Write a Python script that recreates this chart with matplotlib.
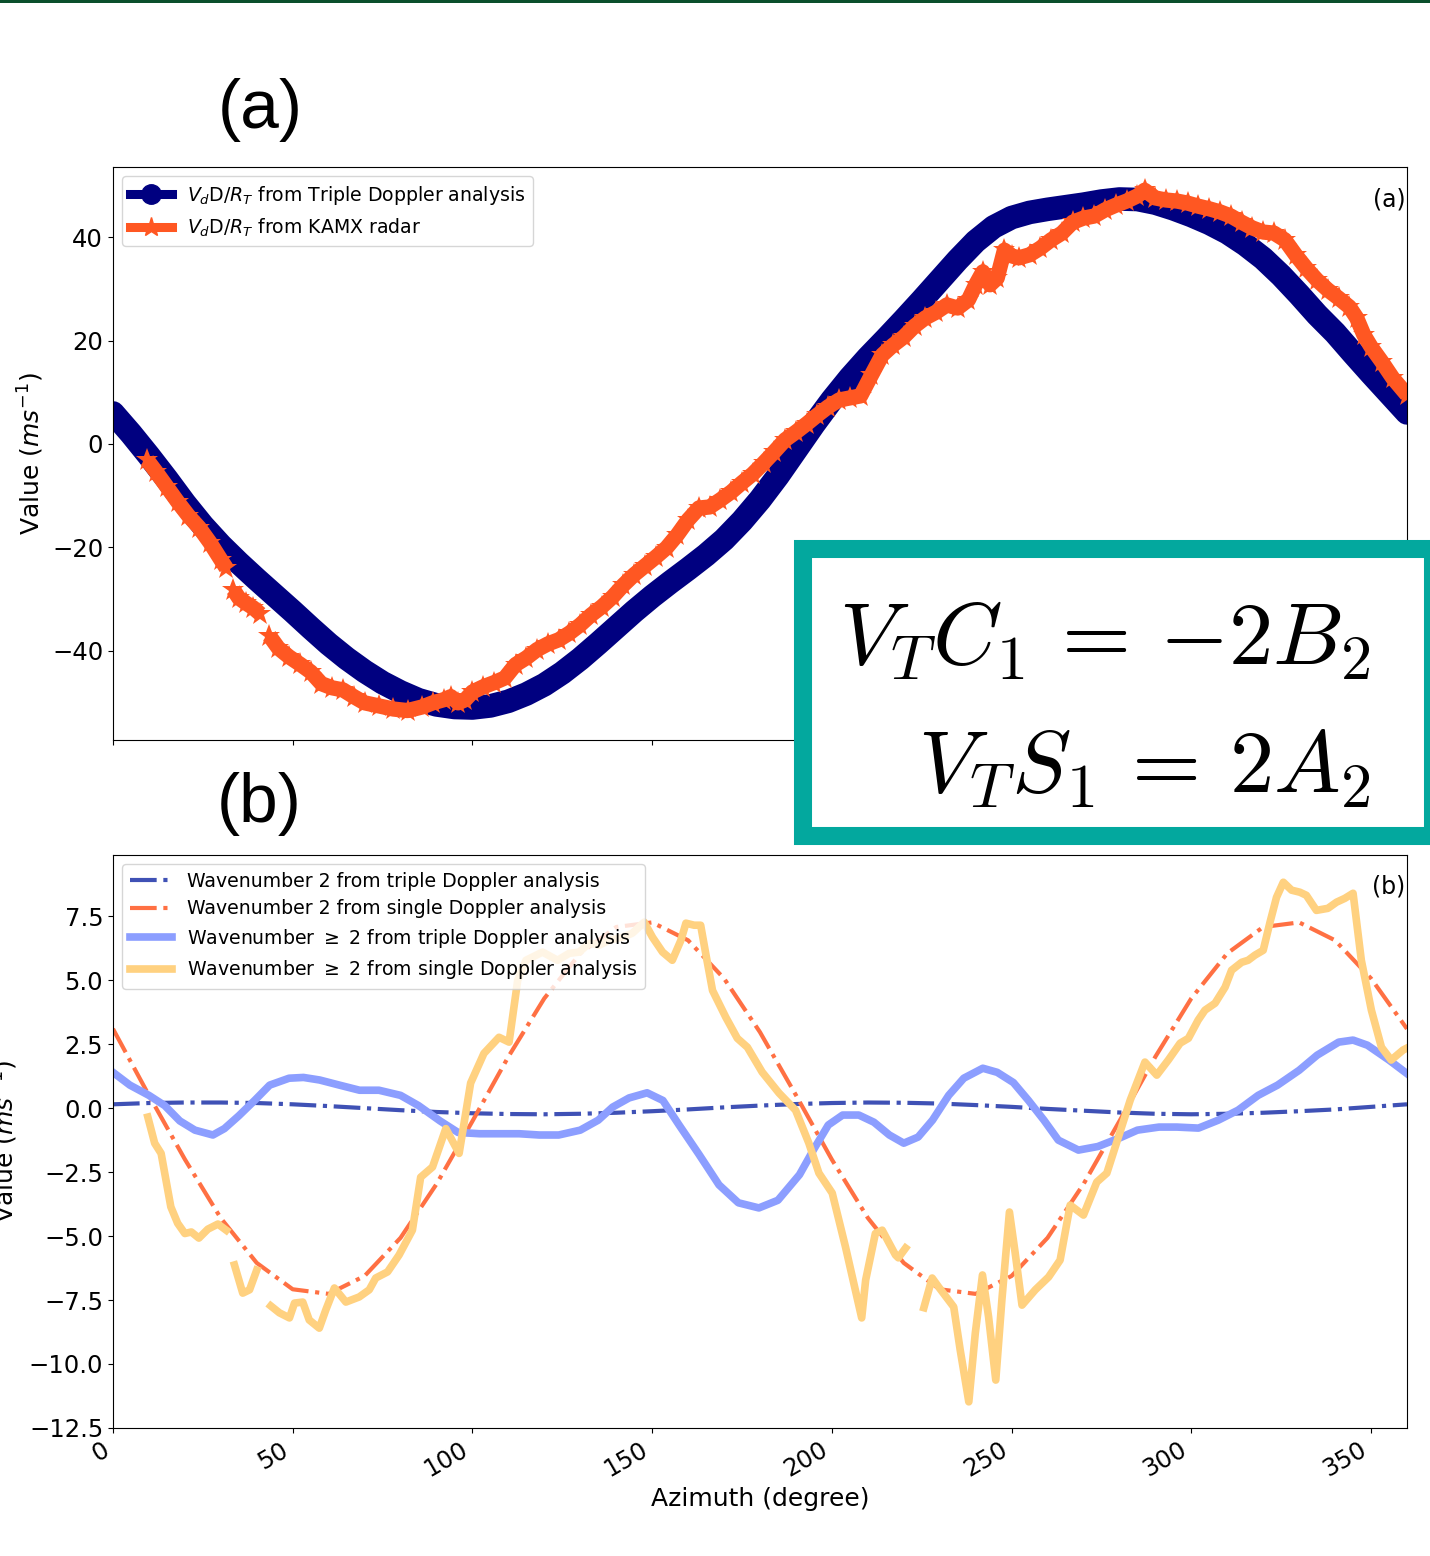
import numpy as np
import matplotlib
matplotlib.use("Agg")
import matplotlib.pyplot as plt
from matplotlib.lines import Line2D
from matplotlib.patches import Rectangle

nan = np.nan

# ---- panel (a): V_d D / R_T ----
az_triple = [0, 5, 10, 15, 20, 25, 30, 35, 40, 45, 50, 55, 60, 65, 70, 75, 80, 85, 90, 95,
             100, 105, 110, 115, 120, 125, 130, 135, 140, 145, 150, 155, 160, 165, 170, 175,
             180, 185, 190, 195, 200, 205, 210, 215, 220, 225, 230, 235, 240, 245, 250, 255,
             260, 265, 270, 275, 280, 285, 290, 295, 300, 305, 310, 315, 320, 325, 330, 335,
             340, 345, 350, 355, 360]
vd_triple = [6.0, 2.0, -2.3, -6.8, -11.5, -15.8, -19.6, -23.0, -26.2, -29.3, -32.4, -35.6,
             -38.7, -41.5, -44.0, -46.2, -48.0, -49.5, -50.5, -51.0, -51.1, -50.7, -49.8,
             -48.4, -46.6, -44.3, -41.6, -38.6, -35.5, -32.4, -29.5, -26.8, -24.2, -21.5,
             -18.5, -14.9, -10.8, -6.2, -1.2, 3.8, 8.5, 12.8, 16.7, 20.3, 24.0, 27.8, 31.7,
             35.6, 39.2, 42.0, 43.8, 44.8, 45.4, 45.9, 46.4, 47.0, 47.4, 47.3, 46.6, 45.5,
             44.2, 42.7, 40.9, 38.6, 35.9, 32.6, 28.9, 25.0, 21.5, 17.5, 13.6, 9.8, 6.0]

az_kamx = [9.5, 12, 15, 18, 21, 24, 27, 30, 31.5, 32.5, 33.5, 35, 37, 39, 41, 42, 43.5, 46,
           49, 52, 55, 58, 61, 64, 67, 70, 74, 78, 82, 86, 89, 92, 94, 96, 98, 100, 103, 106,
           109, 112, 115, 118, 121, 124, 127, 130, 133, 136, 139, 142, 145, 148, 151, 154,
           157, 160, 163, 166, 169, 172, 175, 178, 181, 184, 187, 190, 193, 196, 199, 202,
           205, 208, 211, 214, 217, 220, 223, 226, 229, 232, 235, 238, 240, 242, 244, 246,
           248, 250, 252, 255, 258, 261, 264, 267, 270, 273, 276, 279, 282, 285, 287, 290,
           293, 296, 299, 302, 305, 308, 311, 314, 317, 320, 323, 326, 329, 332, 335, 338,
           341, 344, 346, 348, 350, 353, 356, 360]
vd_kamx = [-3.1, -5.4, -8.3, -11.2, -13.9, -16.2, -19.1, -22.4, -24.0, nan, -28.2, -29.8,
           -30.8, -31.7, -32.9, nan, -37.1, -39.5, -41.2, -42.6, -44.1, -46.4, -47.2, -47.6,
           -48.9, -50.1, -50.7, -51.3, -51.6, -50.9, -50.1, -49.5, -48.9, -50.1, -49.5, -48.0,
           -47.0, -46.2, -45.3, -42.7, -41.4, -39.8, -38.7, -37.9, -36.6, -35.0, -33.1, -31.5,
           -29.6, -27.3, -25.3, -23.6, -21.9, -20.1, -17.6, -14.7, -12.4, -12.2, -10.8, -9.3,
           -7.5, -5.8, -3.7, -1.5, 0.8, 2.3, 3.9, 5.6, 7.2, 8.5, 8.9, 9.3, 13.3, 17.2, 19.1,
           20.7, 22.8, 24.4, 25.5, 26.9, 26.3, 27.9, 30.8, 33.3, 30.8, 32.1, 37.5, 36.4, 36.0,
           36.6, 37.9, 39.5, 40.8, 42.9, 43.7, 44.1, 45.3, 46.2, 47.0, 48.0, 49.1, 47.6, 47.2,
           47.0, 46.6, 46.0, 45.5, 44.9, 44.1, 42.9, 41.8, 41.0, 40.8, 39.5, 36.6, 34.0, 31.7,
           29.8, 28.2, 26.5, 24.4, 21.1, 18.8, 15.9, 12.8, 9.5]

# ---- panel (b): wavenumber components ----
az_wn2 = list(range(0, 361, 10))
wn2_triple = [0.15, 0.2, 0.22, 0.22, 0.2, 0.15, 0.08, 0.0, -0.08, -0.15, -0.2, -0.23, -0.24,
              -0.22, -0.18, -0.12, -0.05, 0.03, 0.1, 0.16, 0.2, 0.22, 0.21, 0.18, 0.12, 0.05,
              -0.03, -0.1, -0.17, -0.22, -0.24, -0.22, -0.18, -0.12, -0.05, 0.05, 0.15]
wn2_single = [3.1, 0.5, -2.0, -4.3, -6.05, -7.08, -7.26, -6.56, -5.07, -2.97, -0.51, 2.01,
              4.29, 6.05, 7.08, 7.26, 6.56, 5.07, 2.97, 0.51, -2.01, -4.29, -6.05, -7.08,
              -7.26, -6.56, -5.07, -2.97, -0.51, 2.01, 4.29, 6.05, 7.08, 7.26, 6.56, 5.07, 3.1]

az_ge2_triple = [0, 4.7, 10, 14.4, 18.6, 22.8, 27.8, 31, 35, 39.4, 43.6, 49, 53, 57.5, 63,
                 68.6, 74, 80, 85, 91, 96, 102, 107.5, 113, 118.6, 124, 130, 135, 139, 143.6,
                 148.6, 153, 157.5, 163, 168.6, 174, 179.7, 185, 191, 195, 199, 203, 207.5,
                 211.7, 216, 220, 224, 228, 232.5, 236.7, 242, 246, 250.5, 254.7, 259, 263,
                 268.6, 274, 280, 285, 291, 296, 302, 307.5, 313, 318.6, 324, 330, 335, 341,
                 345, 349, 355, 360]
ge2_triple = [1.4, 0.9, 0.5, 0.1, -0.5, -0.86, -1.05, -0.8, -0.3, 0.3, 0.9, 1.17, 1.2, 1.1,
              0.9, 0.7, 0.7, 0.5, 0.1, -0.5, -0.95, -1.0, -1.0, -1.0, -1.05, -1.05, -0.86,
              -0.47, 0.04, 0.4, 0.6, 0.3, -0.66, -1.8, -3.0, -3.7, -3.9, -3.6, -2.6, -1.6,
              -0.66, -0.27, -0.27, -0.55, -1.05, -1.37, -1.13, -0.47, 0.5, 1.17, 1.56, 1.4,
              1.0, 0.3, -0.47, -1.25, -1.64, -1.5, -1.17, -0.86, -0.74, -0.74, -0.78, -0.47,
              -0.08, 0.5, 0.9, 1.48, 2.07, 2.58, 2.66, 2.46, 1.88, 1.35]

az_ge2_single = [9.7, 11.6, 13.4, 16.1, 18, 20, 21.8, 23.9, 26.4, 29.2, 31.5, 32.5, 33.8,
                 36.1, 38, 40, 42, 43.9, 46.3, 49.1, 50.5, 52.8, 54.6, 57.4, 59.2, 61.6, 64.8,
                 68.5, 71.3, 73.1, 76.4, 79.6, 83.3, 85.6, 88.9, 92.6, 96.3, 99.5, 103.2,
                 107.4, 110.2, 112.6, 114.9, 119.5, 123.7, 126.9, 129.7, 132.5, 135.3, 138,
                 141.8, 144.5, 147.8, 150.1, 152.9, 155.6, 158, 159.4, 161.7, 163.5, 164.9,
                 166.8, 170.5, 173.7, 176.5, 180.6, 185.3, 189.9, 193.6, 196.4, 200.1, 203.8,
                 208.3, 209.4, 212.1, 214, 217.7, 218.5, 220.5, 222, 225.6, 227.9, 229.7,
                 233.9, 235.7, 238.1, 239.9, 241.9, 243.6, 245.6, 247.3, 249.4, 251, 252.9,
                 256.6, 260.3, 263.5, 266.3, 270, 273.7, 276.5, 279.7, 283, 287.1, 290.4,
                 293.6, 296.9, 299.2, 301.9, 303.8, 306.6, 309.4, 311.2, 314, 315.8, 317.7,
                 320, 321.9, 323.7, 325.6, 327.9, 330.2, 332, 334.8, 338, 340.4, 342.7, 345,
                 347.3, 350.1, 352.9, 355.6, 358.9, 360]
ge2_single = [-0.35, -1.37, -1.77, -3.86, -4.5, -4.9, -4.84, -5.08, -4.73, -4.53, -4.77, nan,
              -6.13, -7.23, -7.1, -6.33, nan, -7.73, -8.0, -8.2, -7.62, -7.58, -8.28, -8.6,
              -7.89, -7.03, -7.58, -7.38, -7.1, -6.64, -6.4, -5.74, -4.77, -2.7, -2.3, -0.8,
              -1.77, 0.98, 2.14, 2.77, 2.58, 5.0, 5.78, 6.1, 5.78, 6.05, 6.1, 6.45, 6.37, 6.56,
              6.68, 6.84, 7.27, 6.68, 6.1, 5.78, 6.56, 7.23, 7.15, 7.15, 6.05, 4.6, 3.55, 2.73,
              2.38, 1.41, 0.59, -0.08, -1.37, -2.54, -3.32, -5.43, -8.2, -6.72, -4.9, -4.77,
              -5.74, -5.85, -5.47, nan, -7.8, -6.64, -6.99, -7.77, -9.45, -11.48, -8.8, -6.52,
              -8.16, -10.63, -7.5, -4.06, -5.66, -7.7, -7.1, -6.6, -5.94, -3.79, -4.18, -2.89,
              -2.54, -1.13, 0.31, 1.8, 1.29, 1.88, 2.54, 2.73, 3.44, 3.83, 4.1, 4.73, 5.39, 5.7,
              5.78, 5.98, 6.17, 7.27, 8.24, 8.83, 8.52, 8.44, 8.32, 7.73, 7.81, 8.05, 8.2, 8.4,
              5.78, 3.83, 2.38, 1.88, 2.27, 2.35]

xticks = [0, 50, 100, 150, 200, 250, 300, 350]

c_navy = '#000080'
c_red = '#ff5722'
c_wn2t = '#3f51b5'
c_wn2s = '#ff7043'
c_ge2t = '#8c9eff'
c_ge2s = '#ffd180'
c_teal = '#03a89e'

fig = plt.figure(figsize=(14.3, 15.56), dpi=100)
ax1 = fig.add_axes([0.0790, 0.5244, 0.9049, 0.3683])
ax2 = fig.add_axes([0.0790, 0.0823, 0.9049, 0.3683])

# panel a
ax1.plot(az_triple, vd_triple, color=c_navy, lw=17, solid_capstyle='round')
ax1.plot(az_kamx, vd_kamx, color=c_red, lw=11, marker='*', ms=17,
         markeredgewidth=0, solid_capstyle='butt')
ax1.set_xlim(0, 360)
ax1.set_ylim(-57.3, 53.6)
ax1.set_xticks(xticks)
ax1.set_xticklabels([])
ax1.set_yticks([-40, -20, 0, 20, 40])
ax1.tick_params(labelsize=17.5)
ax1.set_ylabel('Value ($ms^{-1}$)', fontsize=18)
ax1.yaxis.set_label_coords(-0.052, 0.5)
ax1.text(0.999, 0.965, '(a)', transform=ax1.transAxes, ha='right', va='top', fontsize=17)
h1 = [Line2D([], [], color=c_navy, lw=6.5, marker='o', ms=14),
      Line2D([], [], color=c_red, lw=6.5, marker='*', ms=15)]
ax1.legend(h1, ['$V_d$D/$R_T$ from Triple Doppler analysis', '$V_d$D/$R_T$ from KAMX radar'],
           loc='upper left', fontsize=13.6, handlelength=2.2)

# panel b
ax2.plot(az_wn2, wn2_triple, color=c_wn2t, lw=3, ls='-.',
         label='Wavenumber 2 from triple Doppler analysis')
ax2.plot(az_wn2, wn2_single, color=c_wn2s, lw=3, ls='-.',
         label='Wavenumber 2 from single Doppler analysis')
ax2.plot(az_ge2_triple, ge2_triple, color=c_ge2t, lw=5.5,
         label='Wavenumber $\\geq$ 2 from triple Doppler analysis')
ax2.plot(az_ge2_single, ge2_single, color=c_ge2s, lw=5.5,
         label='Wavenumber $\\geq$ 2 from single Doppler analysis')
ax2.set_xlim(0, 360)
ax2.set_ylim(-12.5, 9.9)
ax2.set_xticks(xticks)
ax2.set_xticklabels([str(t) for t in xticks], rotation=30, ha='right')
ax2.set_yticks(np.arange(-12.5, 8, 2.5))
ax2.tick_params(labelsize=17.5)
ax2.set_xlabel('Azimuth (degree)', fontsize=18)
ax2.set_ylabel('Value ($ms^{-1}$)', fontsize=18)
ax2.yaxis.set_label_coords(-0.072, 0.5)
ax2.text(0.999, 0.965, '(b)', transform=ax2.transAxes, ha='right', va='top', fontsize=17)
ax2.legend(loc='upper left', fontsize=13.6, handlelength=2.2, labelspacing=0.45)

# big panel letters
fig.text(0.182, 0.929, '(a)', ha='center', va='center', fontsize=50, family='Liberation Sans')
fig.text(0.181, 0.483, '(b)', ha='center', va='center', fontsize=50, family='Liberation Sans')

# equation box
W, H = 1430.0, 1556.0
fig.add_artist(Rectangle((803 / W, 1 - 836 / H), 630 / W, 287 / H, transform=fig.transFigure,
                         facecolor='white', edgecolor=c_teal, lw=13, zorder=5))
fig.text(1370 / W, 1 - 665 / H, r'$V_TC_1\,=\,{-}2B_2$', ha='right', va='baseline',
         fontsize=64, math_fontfamily='cm', zorder=6)
fig.text(1370 / W, 1 - 793 / H, r'$V_TS_1\,=\,2A_2$', ha='right', va='baseline',
         fontsize=64, math_fontfamily='cm', zorder=6)

# thin line at the top edge
fig.add_artist(Rectangle((0, 1 - 3 / H), 1, 3 / H, transform=fig.transFigure,
                         facecolor='#0b4f2c', edgecolor='none', zorder=6))

fig.savefig('out.png', dpi=100)
